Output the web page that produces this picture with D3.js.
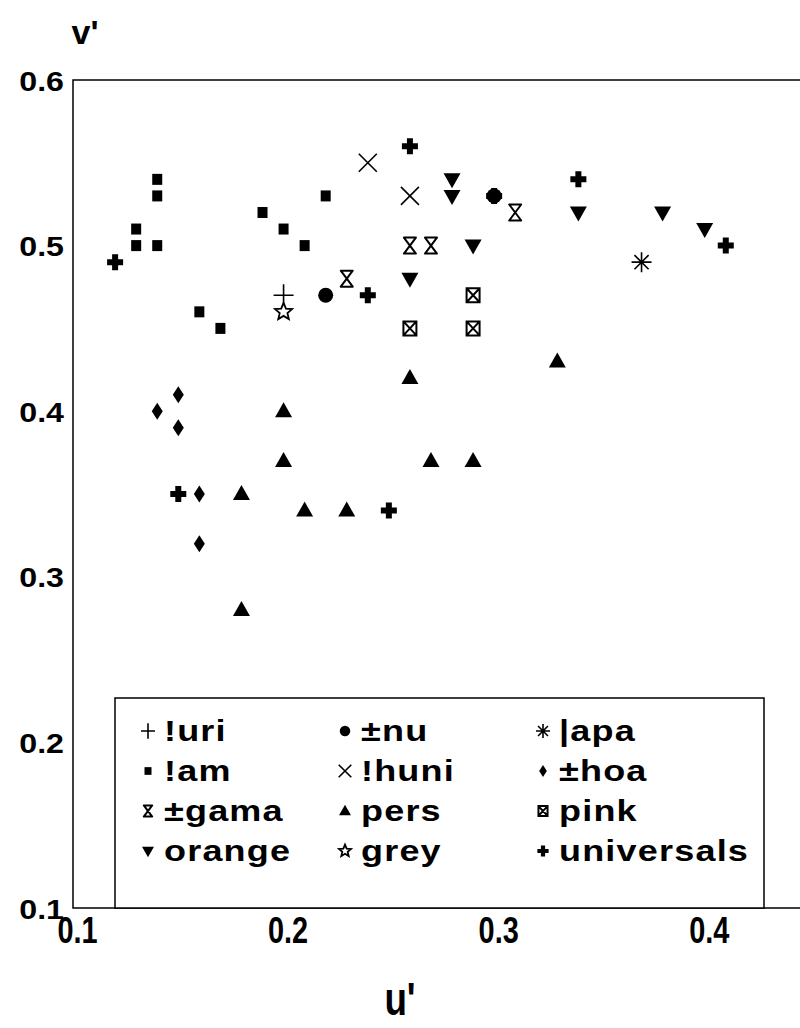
<html>
<head>
	<script src="https://d3js.org/d3.v7.min.js" charset="utf-8"></script>
	<style type="text/css">
	body { margin: 0; background: #fff; }
	text { font-family: "Liberation Sans", Arial, sans-serif; font-weight: bold; fill: #000; }
	</style>
</head>
<body>
<script type="text/javascript">
	// chromaticity points (u', v') per series
	var names = ["!uri", "±nu", "|apa", "!am", "!huni", "±hoa", "±gama", "pers", "pink", "orange", "grey", "universals"];
	var shapes = ["plusThin", "circle", "asterisk", "square", "cross", "diamond", "hourglass", "triUp", "boxX", "triDown", "star", "plusBold"];

	var uriU = [0.20], uriV = [0.47];
	var nuU = [0.22, 0.30], nuV = [0.47, 0.53];
	var apaU = [0.37], apaV = [0.49];
	var amU = [0.14, 0.14, 0.13, 0.13, 0.14, 0.19, 0.20, 0.21, 0.22, 0.16, 0.17];
	var amV = [0.54, 0.53, 0.51, 0.50, 0.50, 0.52, 0.51, 0.50, 0.53, 0.46, 0.45];
	var huniU = [0.24, 0.26], huniV = [0.55, 0.53];
	var hoaU = [0.15, 0.14, 0.15, 0.16, 0.16], hoaV = [0.41, 0.40, 0.39, 0.35, 0.32];
	var gamaU = [0.23, 0.26, 0.27, 0.31], gamaV = [0.48, 0.50, 0.50, 0.52];
	var persU = [0.26, 0.20, 0.20, 0.18, 0.21, 0.23, 0.18, 0.27, 0.29, 0.33];
	var persV = [0.42, 0.40, 0.37, 0.35, 0.34, 0.34, 0.28, 0.37, 0.37, 0.43];
	var pinkU = [0.29, 0.26, 0.29], pinkV = [0.47, 0.45, 0.45];
	var orangeU = [0.28, 0.28, 0.26, 0.29, 0.34, 0.38, 0.40];
	var orangeV = [0.54, 0.53, 0.48, 0.50, 0.52, 0.52, 0.51];
	var greyU = [0.20], greyV = [0.46];
	var uniU = [0.12, 0.26, 0.34, 0.41, 0.24, 0.15, 0.25, 0.30];
	var uniV = [0.49, 0.56, 0.54, 0.50, 0.47, 0.35, 0.34, 0.53];

	var us = [uriU, nuU, apaU, amU, huniU, hoaU, gamaU, persU, pinkU, orangeU, greyU, uniU];
	var vs = [uriV, nuV, apaV, amV, huniV, hoaV, gamaV, persV, pinkV, orangeV, greyV, uniV];

	var xTicks = [0.1, 0.2, 0.3, 0.4];
	var yTicks = [0.1, 0.2, 0.3, 0.4, 0.5, 0.6];

	var w = 800, h = 1028;
	var svg = d3.select("body").append("svg").attr("width", w).attr("height", h);

	var x = d3.scaleLinear().domain([0.1, 0.45]).range([73, 810]);
	var y = d3.scaleLinear().domain([0.1, 0.6]).range([908, 80]);

	// frame: left, bottom and top lines
	svg.append("path")
		.attr("d", "M" + w + "," + y(0.6) + "H" + x(0.1) + "V" + y(0.1) + "H" + w)
		.attr("fill", "none").attr("stroke", "#000").attr("stroke-width", 1.5);

	var yAxis = svg.append("g").attr("transform", "translate(" + x(0.1) + ",0)")
		.call(d3.axisLeft(y).tickValues(yTicks).tickSize(0).tickPadding(0).tickFormat(d3.format(".1f")));
	yAxis.select(".domain").remove();
	yAxis.selectAll("text").attr("font-size", 28).attr("font-family", "Liberation Sans").attr("font-weight", "bold")
		.attr("x", 0).attr("dy", "0.36em").attr("transform", "translate(-9,0) scale(1.15,1)");

	var xAxis = svg.append("g").attr("transform", "translate(0," + y(0.1) + ")")
		.call(d3.axisBottom(x).tickValues(xTicks).tickSize(0).tickPadding(9).tickFormat(d3.format(".1f")));
	xAxis.select(".domain").remove();
	xAxis.selectAll("text").attr("font-size", 37).attr("font-family", "Liberation Sans").attr("font-weight", "bold")
		.attr("transform", "translate(4,0) scale(0.78,1)");

	svg.append("text").text("v'").attr("x", 85).attr("y", 44).attr("text-anchor", "middle").attr("font-size", 34);
	svg.append("text").text("u'").attr("transform", "translate(400,1015) scale(0.8,1)").attr("text-anchor", "middle").attr("font-size", 46);

	// marker drawing
	function star(r) {
		var p = [];
		for (var i = 0; i < 10; i++) {
			var a = -Math.PI / 2 + i * Math.PI / 5;
			var rr = i % 2 == 0 ? r : r * 0.45;
			p.push([rr * Math.cos(a), rr * Math.sin(a)]);
		}
		return "M" + p.join("L") + "Z";
	}
	function drawMarker(g, type, s) {
		var k = s;
		if (type == "plusThin") {
			g.append("path").attr("d", "M" + (-10 * k) + ",0H" + (10 * k) + "M0," + (-11 * k) + "V" + (11 * k))
				.attr("stroke", "#000").attr("stroke-width", 1.6).attr("fill", "none");
		} else if (type == "circle") {
			g.append("circle").attr("r", 7.5 * k).attr("fill", "#000");
		} else if (type == "asterisk") {
			var d = "";
			for (var i = 0; i < 4; i++) {
				var a = i * Math.PI / 4;
				d += "M" + (-10 * k * Math.cos(a)) + "," + (-10 * k * Math.sin(a)) + "L" + (10 * k * Math.cos(a)) + "," + (10 * k * Math.sin(a));
			}
			g.append("path").attr("d", d).attr("stroke", "#000").attr("stroke-width", 1.6);
		} else if (type == "square") {
			g.append("rect").attr("x", -5 * k).attr("y", -5.5 * k).attr("width", 10 * k).attr("height", 11 * k).attr("fill", "#000");
		} else if (type == "cross") {
			g.append("path").attr("d", "M" + (-9 * k) + "," + (-9 * k) + "L" + (9 * k) + "," + (9 * k) + "M" + (-9 * k) + "," + (9 * k) + "L" + (9 * k) + "," + (-9 * k))
				.attr("stroke", "#000").attr("stroke-width", 1.6);
		} else if (type == "diamond") {
			g.append("path").attr("d", "M0," + (-8.5 * k) + "L" + (5.5 * k) + ",0L0," + (8.5 * k) + "L" + (-5.5 * k) + ",0Z").attr("fill", "#000");
		} else if (type == "hourglass") {
			g.append("path").attr("d", "M" + (-6 * k) + "," + (-8 * k) + "H" + (6 * k) + "L" + (-6 * k) + "," + (8 * k) + "H" + (6 * k) + "Z")
				.attr("stroke", "#000").attr("stroke-width", 2).attr("fill", "#fff").attr("stroke-linejoin", "round");
		} else if (type == "triUp") {
			g.append("path").attr("d", "M0," + (-9 * k) + "L" + (8.5 * k) + "," + (6 * k) + "H" + (-8.5 * k) + "Z").attr("fill", "#000");
		} else if (type == "triDown") {
			g.append("path").attr("d", "M0," + (9 * k) + "L" + (8.5 * k) + "," + (-6 * k) + "H" + (-8.5 * k) + "Z").attr("fill", "#000");
		} else if (type == "boxX") {
			g.append("path").attr("d", "M" + (-6.5 * k) + "," + (-7 * k) + "H" + (6.5 * k) + "V" + (7 * k) + "H" + (-6.5 * k) + "Z" +
				"M" + (-6.5 * k) + "," + (-7 * k) + "L" + (6.5 * k) + "," + (7 * k) + "M" + (-6.5 * k) + "," + (7 * k) + "L" + (6.5 * k) + "," + (-7 * k))
				.attr("stroke", "#000").attr("stroke-width", 2).attr("fill", "#fff");
		} else if (type == "star") {
			g.append("path").attr("d", star(9 * k)).attr("stroke", "#000").attr("stroke-width", 1.8).attr("fill", "#fff");
		} else if (type == "plusBold") {
			var a = 8 * k, b = 3 * k;
			g.append("path").attr("d", "M" + (-b) + "," + (-a) + "H" + b + "V" + (-b) + "H" + a + "V" + b + "H" + b + "V" + a + "H" + (-b) + "V" + b + "H" + (-a) + "V" + (-b) + "H" + (-b) + "Z")
				.attr("fill", "#000");
		}
	}

	// points
	for (var s = 0; s < names.length; s++) {
		var pts = us[s].map(function(u, i) { return [u, vs[s][i]]; });
		var sel = svg.append("g").attr("class", "series").selectAll("g")
			.data(pts).enter().append("g")
			.attr("transform", function(d) { return "translate(" + x(d[0]) + "," + y(d[1]) + ")"; });
		var type = shapes[s];
		sel.each(function() { drawMarker(d3.select(this), type, 1); });
	}

	// legend
	var lg = svg.append("g");
	lg.append("rect").attr("x", 115).attr("y", 698).attr("width", 649).attr("height", y(0.1) - 698)
		.attr("fill", "#fff").attr("stroke", "#000").attr("stroke-width", 1.5);
	var colX = [148, 345, 543];
	var rowY = [731, 771, 811, 851];
	for (var i = 0; i < names.length; i++) {
		var cx = colX[i % 3], cy = rowY[Math.floor(i / 3)];
		var g = lg.append("g").attr("transform", "translate(" + cx + "," + cy + ")");
		drawMarker(g, shapes[i], 0.7);
		lg.append("text").text(names[i])
			.attr("transform", "translate(" + (cx + 16) + "," + (cy + 10) + ") scale(1.2,1)")
			.attr("font-size", 30).attr("letter-spacing", 1);
	}
</script>
</body>
</html>
